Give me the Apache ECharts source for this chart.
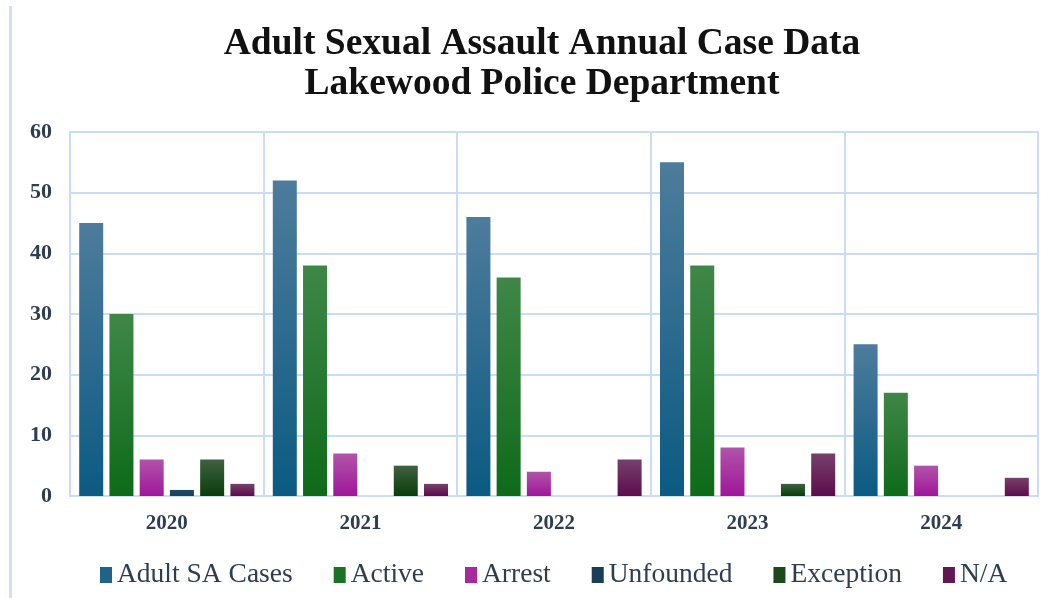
<!DOCTYPE html>
<html>
<head>
<meta charset="utf-8">
<script src="https://cdn.jsdelivr.net/npm/echarts@6/dist/echarts.min.js"></script>
<style>
html,body{margin:0;padding:0;background:#fff;}
#chart{width:1056px;height:598px;}
</style>
</head>
<body>
<div id="chart"></div>
<script>
var categories = ['2020', '2021', '2022', '2023', '2024'];
var adultSACases = [45, 52, 46, 55, 25];
var active = [30, 38, 36, 38, 17];
var arrest = [6, 7, 4, 8, 5];
var unfounded = [1, 0, 0, 0, 0];
var exception = [6, 5, 0, 2, 0];
var na = [2, 2, 6, 7, 3];
var seriesNames = ['Adult SA Cases', 'Active', 'Arrest', 'Unfounded', 'Exception', 'N/A'];
var yTicks = [0, 10, 20, 30, 40, 50, 60];

var gridColor = '#c9def4';
var textColor = '#2c3e50';
function grad(top, bottom) {
  return {type: 'linear', x: 0, y: 0, x2: 0, y2: 1,
    colorStops: [{offset: 0, color: top}, {offset: 1, color: bottom}]};
}
var colors = [
  grad('#4d7c9c', '#0b5a82'),
  grad('#3f8748', '#0e6a19'),
  grad('#b054a9', '#a0169a'),
  grad('#1e4a63', '#16425c'),
  grad('#3f613f', '#0a3c0b'),
  grad('#76416c', '#5c0b4c')
];
var legendColors = ['#1f6488', '#1a7325', '#a52a9e', '#183f56', '#1a4a1b', '#62194f'];
var dataSets = [adultSACases, active, arrest, unfounded, exception, na];

var series = dataSets.map(function (d, i) {
  return {
    name: seriesNames[i],
    type: 'bar',
    data: d,
    barWidth: 24,
    barGap: '26%',
    itemStyle: {color: colors[i]},
    color: legendColors[i]
  };
});

var chart = echarts.init(document.getElementById('chart'), null, {renderer: 'canvas'});
chart.setOption({
  animation: false,
  backgroundColor: '#ffffff',
  title: {
    text: 'Adult Sexual Assault Annual Case Data\nLakewood Police Department',
    left: 537,
    textAlign: 'center',
    top: 19,
    textStyle: {
      fontFamily: 'Liberation Serif',
      fontWeight: 'bold',
      fontSize: 37.5,
      lineHeight: 40,
      color: '#111111'
    }
  },
  graphic: [{
    type: 'rect',
    shape: {x: 9, y: 6, width: 3, height: 600},
    style: {fill: '#cfe1f5'}
  }],
  legend: {
    data: seriesNames.map(function (n, i) { return {name: n, itemStyle: {color: legendColors[i]}}; }),
    bottom: 4,
    left: 95,
    icon: 'rect',
    itemWidth: 12,
    itemHeight: 16,
    itemGap: 41,
    textStyle: {fontFamily: 'Liberation Serif', fontSize: 27.5, color: textColor}
  },
  grid: {
    left: 70, right: 18, top: 132, bottom: 102,
    show: true, borderColor: gridColor, borderWidth: 2
  },
  xAxis: {
    type: 'category',
    data: categories,
    axisLine: {show: true, lineStyle: {color: gridColor, width: 2}},
    axisTick: {show: false},
    splitLine: {show: true, lineStyle: {color: gridColor, width: 2}},
    axisLabel: {
      margin: 17,
      fontFamily: 'Liberation Serif', fontWeight: 'bold', fontSize: 21, color: textColor
    }
  },
  yAxis: {
    type: 'value',
    min: yTicks[0],
    max: yTicks[yTicks.length - 1],
    interval: 10,
    axisLine: {show: true, lineStyle: {color: gridColor, width: 2}},
    axisTick: {show: false},
    splitLine: {show: true, lineStyle: {color: gridColor, width: 2}},
    axisLabel: {
      margin: 18,
      fontFamily: 'Liberation Serif', fontWeight: 'bold', fontSize: 22, color: textColor
    }
  },
  series: series
});
</script>
</body>
</html>
